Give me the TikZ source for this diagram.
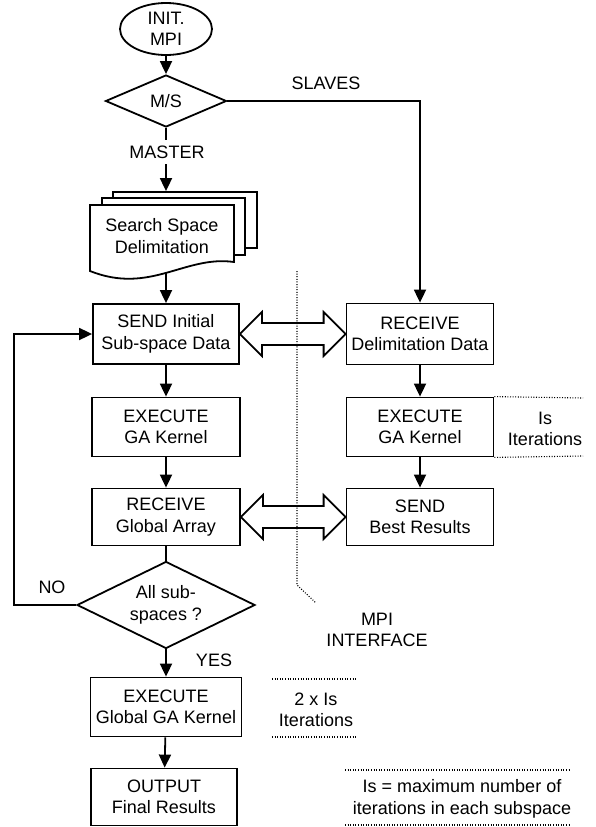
\documentclass[tikz,border=0pt]{standalone}
\usepackage{fontspec}
\setmainfont{Liberation Sans}
\usetikzlibrary{shapes.geometric,arrows.meta,calc}

% hollow two-headed arrow between two points at the same height
\newcommand\hollowpair[2]{%
  \draw[hollow] (#1) -- ++(22pt,22pt) -- ++(0,-11pt)
    -- ($(#2)+(-22pt,11pt)$) -- ++(0,11pt) -- (#2)
    -- ++(-22pt,-22pt) -- ++(0,11pt)
    -- ($(#1)+(22pt,-11pt)$) -- ++(0,-11pt) -- cycle;}

\begin{document}
\begin{tikzpicture}[x=1pt,y=-1pt,
  font=\fontsize{18}{21.5}\selectfont,
  every node/.style={align=center},
  box/.style={draw, line width=1.8pt, minimum width=147pt, minimum height=59pt,
    inner sep=0pt, fill=white},
  arr/.style={line width=1.8pt, -{Triangle[length=13pt,width=12pt]}},
  ln/.style={line width=1.8pt},
  dots/.style={line width=1.1pt, dash pattern=on 1pt off 1.6pt},
  hollow/.style={line width=1.8pt, line join=miter},
  decide/.style={draw, diamond, line width=1.8pt, aspect=2, inner sep=0pt, fill=white}
]
\useasboundingbox (0,0) rectangle (595,827);

% start and master/slave decision
\node[draw, ellipse, line width=1.8pt, minimum width=92pt, minimum height=52pt,
  inner sep=-3pt] (init) at (166,29) {INIT.\\MPI};
\node[decide, minimum width=121pt, minimum height=52pt] (ms) at (166,101) {M/S};

% stacked documents
\node[draw, line width=1.8pt, fill=white, minimum width=144pt, minimum height=56pt,
  inner sep=0pt] (doc3) at (185,220) {};
\node[draw, line width=1.8pt, fill=white, minimum width=143pt, minimum height=57pt,
  inner sep=0pt] (doc2) at (173.5,226.5) {};
\draw[ln, fill=white] (90,205) -- (234,205) -- (234,262)
  .. controls (185,255) and (150,295) .. (90,271) -- cycle;
\node (doc) at (162,236) {Search Space\\Delimitation};
\coordinate (docbot) at (166,273);

% master column
\node[box, minimum width=146pt, minimum height=60pt] (send) at (166,334) {SEND Initial\\Sub-space Data};
\node[box, minimum width=148pt] (exe1) at (166,427) {EXECUTE\\GA Kernel};
\node[box, minimum width=148pt, minimum height=57pt] (rga) at (166,517) {RECEIVE\\Global Array};
\node[decide, minimum width=178pt, minimum height=87pt] (alls) at (166,605) {All sub-\\spaces ?};
\node[box, minimum width=151pt] (exg) at (166,707) {EXECUTE\\Global GA Kernel};
\node[box, minimum width=146pt, minimum height=57pt] (out) at (164,797) {OUTPUT\\Final Results};

% slave column
\node[box, minimum height=61pt] (rcv) at (420,334) {RECEIVE\\Delimitation Data};
\node[box] (exe2) at (420,427) {EXECUTE\\GA Kernel};
\node[box, minimum height=57pt] (sbr) at (420,517) {SEND\\Best Results};

% connectors
\draw[arr] (init) -- (ms);
\draw[arr] (ms.south) -- (ms.south |- doc3.north);
\node[fill=white, inner xsep=2pt, inner ysep=6pt] (master) at (167,152) {MASTER};
\draw[arr] (ms.east) -| (rcv.north);
\node (slaves) at (326,83) {SLAVES};
\draw[arr] (docbot) -- (send);
\draw[arr] (send) -- (exe1);
\draw[arr] (exe1) -- (rga);
\draw[ln] (rga) -- (alls);
\draw[arr] (alls) -- (exg);
\draw[arr] (exg) -- (out);
\draw[arr] (alls.west) -- ++(-62,0) |- (send.west);
\node (no) at (52,587) {NO};
\node (yes) at (214,660) {YES};
\draw[arr] (rcv) -- (exe2);
\draw[arr] (exe2) -- (sbr);

% message exchange
\hollowpair{send.east}{rcv.west}
\hollowpair{rga.east}{sbr.west}

% MPI interface boundary
\draw[dots] (297,271) -- (297,585) -- (316,603);
\node (mpi) at (377,630) {MPI\\INTERFACE};

% iteration notes
\draw[dots] (exe2.north east) -- (583,398);
\draw[dots] (exe2.south east) -- (583,456);
\node (isit) at (545,429) {Is\\Iterations};

\draw[dots] (272,679) -- (357,679);
\draw[dots] (272,737) -- (357,737);
\node (twois) at (316,710) {2 x Is\\Iterations};

\draw[dots] (345,770) -- (570,770);
\draw[dots] (345,825) -- (570,825);
\node (note) at (462,799) {Is = maximum number of\\iterations in each subspace};
\end{tikzpicture}
\end{document}
